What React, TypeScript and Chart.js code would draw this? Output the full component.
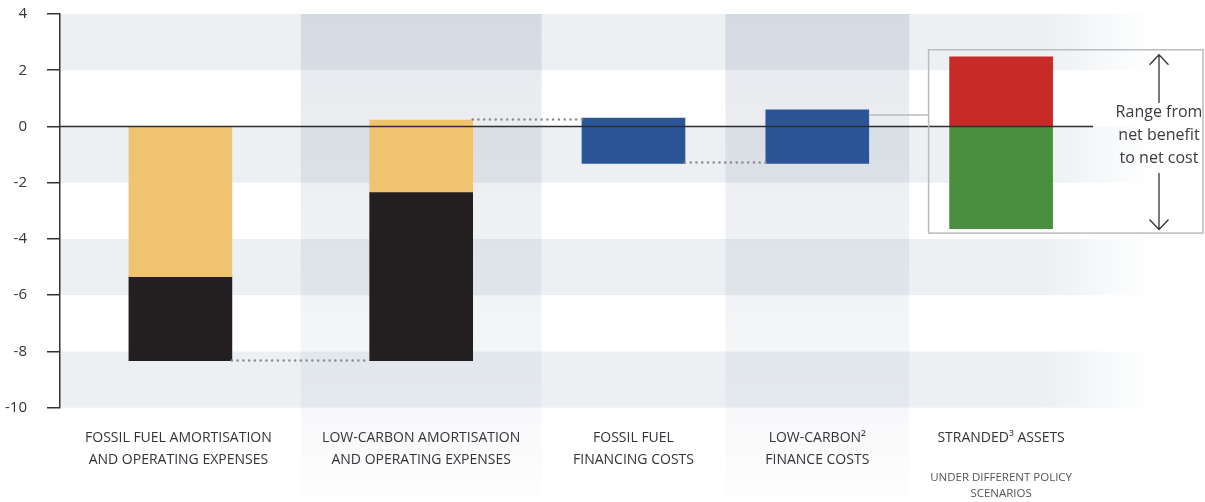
import React, { useEffect, useRef } from "react";
import { Chart, registerables } from "chart.js";

Chart.register(...registerables);

// ---------- data ----------
const categories: string[][] = [
  ["FOSSIL FUEL AMORTISATION", "AND OPERATING EXPENSES"],
  ["LOW-CARBON AMORTISATION", "AND OPERATING EXPENSES"],
  ["FOSSIL FUEL", "FINANCING COSTS"],
  ["LOW-CARBON²", "FINANCE COSTS"],
  ["STRANDED³ ASSETS"],
];
const categoryNotes: string[][] = [[], [], [], [], ["UNDER DIFFERENT POLICY", "SCENARIOS"]];

const upperTop = [0, 0.23, null, null, null];
const upperBottom = [-5.34, -2.33, null, null, null];
const lowerBottom = [-8.33, -8.33, null, null, null];
const financeTop = [null, null, 0.3, 0.59, null];
const financeBottom = [null, null, -1.31, -1.31, null];
const strandedCost = [null, null, null, null, 2.48];
const strandedBenefit = [null, null, null, null, -3.63];

const yMin = -10;
const yMax = 4;
const yStep = 2;
const rangeNote = ["Range from", "net benefit", "to net cost"];
const boxLinkLevel = 0.41;

// ---------- layout / style ----------
const W = 1205;
const H = 502;
const FONT = "'Open Sans'";
const slotWidths = [1.31, 1.31, 1, 1, 1];
const slotStarts: number[] = [];
slotWidths.reduce((acc, w) => {
  slotStarts.push(acc);
  return acc + w;
}, 0);
const slotCenters = slotStarts.map((s, i) => s + slotWidths[i] / 2);
const slotTotal = slotWidths.reduce((a, b) => a + b, 0);
const shadedSlots = [1, 3];
const BAR = 103;

const COLORS = {
  upper: "#EFC36F",
  lower: "#231F20",
  finance: "#2B5597",
  cost: "#C72A27",
  benefit: "#4A8F40",
  band: "236,240,243",
  text: "#333338",
};

function floatData(tops: (number | null)[], bottoms: (number | null)[]) {
  const out: { x: number; y: [number, number] }[] = [];
  tops.forEach((t, i) => {
    const b = bottoms[i];
    if (t != null && b != null) out.push({ x: slotCenters[i], y: [b, t] });
  });
  return out;
}
const zeros = categories.map(() => 0);

const decorPlugin = {
  id: "decor",
  beforeDraw(chart: any) {
    const { ctx, chartArea } = chart;
    const y = chart.scales.y;
    const x = chart.scales.x;
    ctx.save();
    // horizontal bands fading to the right
    const fadeEnd = chartArea.right + 62;
    const g = ctx.createLinearGradient(chartArea.left, 0, fadeEnd, 0);
    const solidStop = (chartArea.right - 50 - chartArea.left) / (fadeEnd - chartArea.left);
    g.addColorStop(0, `rgba(${COLORS.band},1)`);
    g.addColorStop(solidStop, `rgba(${COLORS.band},1)`);
    g.addColorStop(1, `rgba(${COLORS.band},0)`);
    ctx.fillStyle = g;
    for (let v = yMax; v > yMin; v -= 2 * yStep) {
      const top = y.getPixelForValue(v);
      const bot = y.getPixelForValue(v - yStep);
      ctx.fillRect(chartArea.left, top, fadeEnd - chartArea.left, bot - top);
    }
    // shaded category columns (multiply, fading downward)
    ctx.globalCompositeOperation = "multiply";
    const colBottom = chartArea.bottom + 90;
    const cg = ctx.createLinearGradient(0, chartArea.top, 0, colBottom);
    const mid = (chartArea.bottom - chartArea.top) / (colBottom - chartArea.top);
    cg.addColorStop(0, "rgba(205,210,220,0.5)");
    cg.addColorStop(mid, "rgba(205,210,220,0.16)");
    cg.addColorStop(1, "rgba(205,210,220,0.03)");
    ctx.fillStyle = cg;
    shadedSlots.forEach((i) => {
      const l = x.getPixelForValue(slotStarts[i]);
      const r = x.getPixelForValue(slotStarts[i] + slotWidths[i]);
      ctx.fillRect(l, chartArea.top, r - l, colBottom - chartArea.top);
    });
    ctx.restore();
  },
  afterDatasetsDraw(chart: any) {
    const { ctx, chartArea } = chart;
    const y = chart.scales.y;
    const x = chart.scales.x;
    const left = (i: number) => x.getPixelForValue(slotCenters[i]) - BAR / 2;
    const right = (i: number) => x.getPixelForValue(slotCenters[i]) + BAR / 2;
    ctx.save();
    // dotted waterfall connectors
    const connectors = [
      { from: 0, to: 1, value: lowerBottom[0] as number },
      { from: 1, to: 2, value: upperTop[1] as number },
      { from: 2, to: 3, value: financeBottom[2] as number },
    ];
    ctx.strokeStyle = "#8a8d93";
    ctx.lineWidth = 2.6;
    ctx.lineCap = "round";
    ctx.setLineDash([0, 5.75]);
    connectors.forEach((c) => {
      const py = Math.round(y.getPixelForValue(c.value)) - 0.5;
      ctx.beginPath();
      ctx.moveTo(right(c.from), py);
      ctx.lineTo(left(c.to), py);
      ctx.stroke();
    });
    ctx.setLineDash([]);
    ctx.lineCap = "butt";
    // zero line
    const y0 = y.getPixelForValue(0);
    ctx.strokeStyle = "#2e2e33";
    ctx.lineWidth = 1.5;
    ctx.beginPath();
    ctx.moveTo(chartArea.left, y0);
    ctx.lineTo(chartArea.right, y0);
    ctx.stroke();
    ctx.restore();
  },
  afterDraw(chart: any) {
    const { ctx, chartArea } = chart;
    const y = chart.scales.y;
    const x = chart.scales.x;
    ctx.save();
    // range box
    const c5 = x.getPixelForValue(slotCenters[4]);
    const bl = c5 - BAR / 2 - 21;
    const br = chart.width - 2;
    const bt = y.getPixelForValue(strandedCost[4] as number) - 7;
    const bb = y.getPixelForValue(strandedBenefit[4] as number) + 4.5;
    ctx.strokeStyle = "#b9bcc1";
    ctx.lineWidth = 1.5;
    ctx.strokeRect(bl, bt, br - bl, bb - bt);
    // link line from bar 4 to box
    const c4r = x.getPixelForValue(slotCenters[3]) + BAR / 2;
    const ly = y.getPixelForValue(boxLinkLevel);
    ctx.beginPath();
    ctx.moveTo(c4r, ly);
    ctx.lineTo(bl, ly);
    ctx.stroke();
    // note text + arrows
    const ax = chart.width - 46;
    const lh = 23;
    const mid = (bt + bb) / 2 - 5.5;
    const firstY = mid - lh;
    const lastY = mid + lh;
    ctx.fillStyle = "#3a3a40";
    ctx.font = `16px ${FONT}`;
    ctx.textAlign = "center";
    ctx.textBaseline = "middle";
    rangeNote.forEach((t, i) => ctx.fillText(t, ax, firstY + i * lh));
    ctx.strokeStyle = "#333338";
    ctx.lineWidth = 1.3;
    const arrow = (y1: number, y2: number, headAtY1: boolean) => {
      ctx.beginPath();
      ctx.moveTo(ax, y1);
      ctx.lineTo(ax, y2);
      const hy = headAtY1 ? y1 : y2;
      const d = headAtY1 ? 10 : -10;
      ctx.moveTo(ax - 9.5, hy + d);
      ctx.lineTo(ax, hy);
      ctx.lineTo(ax + 9.5, hy + d);
      ctx.stroke();
    };
    arrow(bt + 5, firstY - 10, true);
    arrow(lastY + 14, bb - 3.5, false);
    // category labels
    ctx.fillStyle = COLORS.text;
    categories.forEach((lines, i) => {
      const cx = x.getPixelForValue(slotCenters[i]) - (i === 0 ? 2 : 0);
      ctx.font = `14px ${FONT}`;
      lines.forEach((t, k) => ctx.fillText(t, cx, chartArea.bottom + 30 + k * 22));
      ctx.font = `11.5px ${FONT}`;
      ctx.fillStyle = "#555559";
      categoryNotes[i].forEach((t, k) => ctx.fillText(t, cx, chartArea.bottom + 70 + k * 16));
      ctx.fillStyle = COLORS.text;
    });
    ctx.restore();
  },
};

export default function App() {
  const ref = useRef<HTMLCanvasElement | null>(null);
  useEffect(() => {
    if (!ref.current) return;
    Chart.defaults.font.family = FONT;
    const chart = new Chart(ref.current, {
      type: "bar",
      data: {
        datasets: [
          { label: "Upper", data: floatData(upperTop, upperBottom), backgroundColor: COLORS.upper },
          { label: "Lower", data: floatData(upperBottom, lowerBottom), backgroundColor: COLORS.lower },
          { label: "Financing", data: floatData(financeTop, financeBottom), backgroundColor: COLORS.finance },
          { label: "Net cost", data: floatData(strandedCost, zeros), backgroundColor: COLORS.cost },
          { label: "Net benefit", data: floatData(zeros.map((z, i) => (strandedBenefit[i] == null ? null : z)), strandedBenefit), backgroundColor: COLORS.benefit },
        ] as any,
      },
      options: {
        animation: false,
        responsive: false,
        devicePixelRatio: 1,
        datasets: { bar: { grouped: false, barThickness: BAR, borderWidth: 0 } } as any,
        layout: { padding: { left: 0, top: 14, right: W - 1093, bottom: 94.3 } },
        plugins: { legend: { display: false }, tooltip: { enabled: false } },
        scales: {
          x: { type: "linear", display: false, offset: false, min: 0, max: slotTotal },
          y: {
            min: yMin,
            max: yMax,
            ticks: { stepSize: yStep, color: "#333338", font: { size: 15, family: FONT }, padding: 20 },
            grid: { drawOnChartArea: false, drawTicks: true, tickLength: 13, color: "#333338", lineWidth: 1.5 },
            border: { color: "#333338", width: 1.5 },
            afterFit: (s: any) => {
              s.width = 60;
              s.paddingTop = 0;
              s.paddingBottom = 0;
            },
          },
        },
      } as any,
      plugins: [decorPlugin],
    });
    return () => chart.destroy();
  }, []);
  return (
    <div style={{ position: "fixed", left: 0, top: 0, width: W, height: H, background: "#fff" }}>
      <canvas ref={ref} width={W} height={H} style={{ display: "block" }} />
    </div>
  );
}
